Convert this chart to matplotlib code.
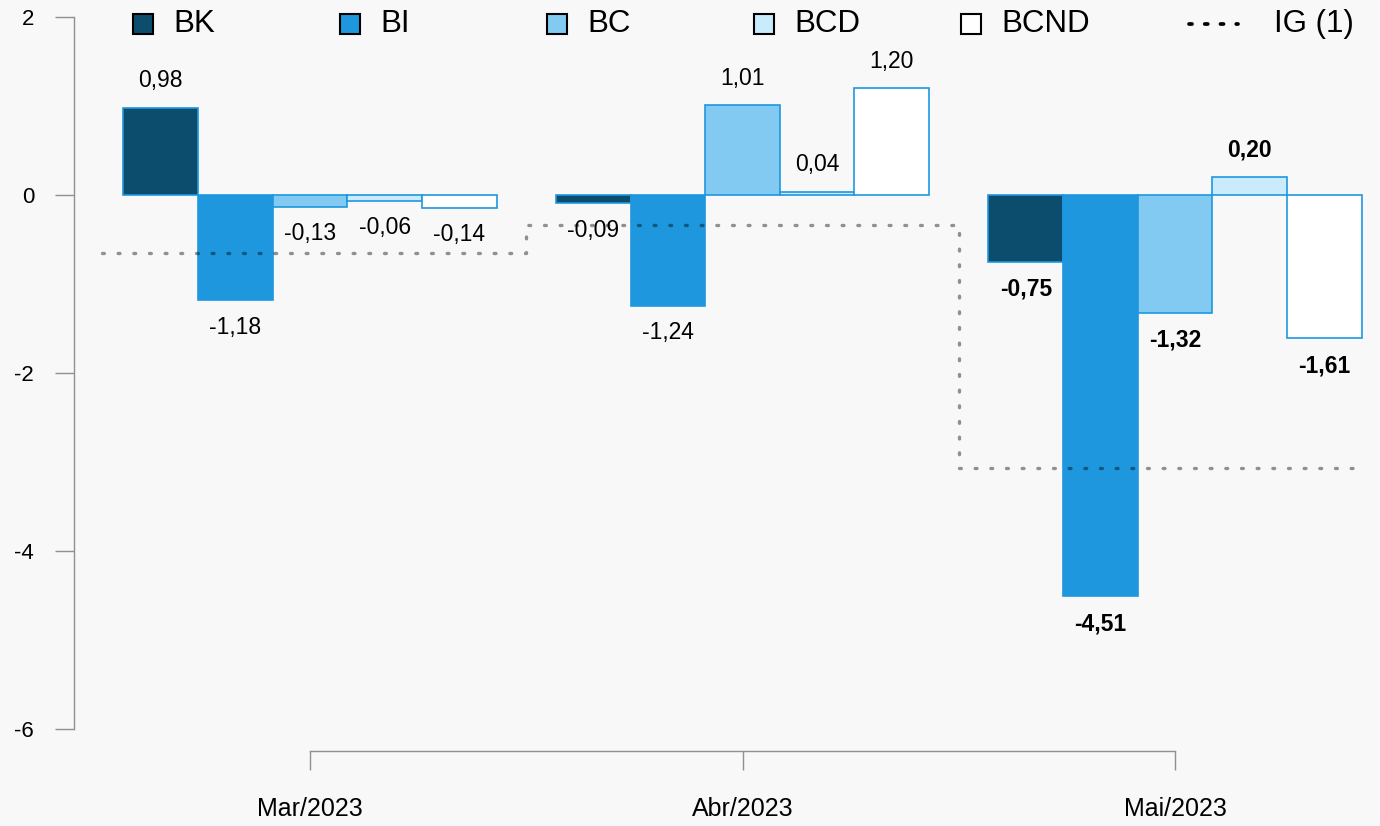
import matplotlib
matplotlib.use('Agg')
import matplotlib.pyplot as plt
from matplotlib.patches import Rectangle
from matplotlib.lines import Line2D
import numpy as np

plt.rcParams['font.family'] = ['Liberation Sans', 'DejaVu Sans']

# ---- data ----
months = ['Mar/2023', 'Abr/2023', 'Mai/2023']
series = ['BK', 'BI', 'BC', 'BCD', 'BCND']
bk = [0.98, -0.09, -0.75]
bi = [-1.18, -1.24, -4.51]
bc = [-0.13, 1.01, -1.32]
bcd = [-0.06, 0.04, 0.20]
bcnd = [-0.14, 1.20, -1.61]
ig = [-0.65, -0.33, -3.07]
ig_label = 'IG (1)'
yticks = [-6, -4, -2, 0, 2]

values = [bk, bi, bc, bcd, bcnd]
colors = ['#0c4d6d', '#1e97de', '#82caf2', '#c9ebfb', '#ffffff']
edge = '#1e97de'
bg = '#f8f8f8'

W, H = 1380, 826
fig = plt.figure(figsize=(W / 100, H / 100), dpi=100)
fig.patch.set_facecolor(bg)
ax = fig.add_axes([74 / W, (H - 750.7) / H, (W - 74) / W, 750.7 / H])
ax.set_facecolor(bg)
ax.set_xlim(-0.5457, 2.474)
ax.set_ylim(-6.244, 2.1945)

x = np.arange(len(months))
w = 0.1725
for i, vals in enumerate(values):
    xs = x + (i - 2) * w
    ax.bar(xs, vals, w, color=colors[i], edgecolor=edge, linewidth=1.2, zorder=2)
    for j, (xx, v) in enumerate(zip(xs, vals)):
        ax.annotate(f'{v:.2f}'.replace('.', ','), (xx, v),
                    xytext=(0, 19.5 if v >= 0 else -19.5), textcoords='offset points',
                    ha='center', va='center', fontsize=16.5,
                    fontweight='bold' if j == 2 else 'normal', zorder=4)

# IG step line
starts = [-0.48, 0.5, 1.5]
ends = [0.5, 1.5, 2.43]
sx, sy = [], []
for s, e, v in zip(starts, ends, ig):
    sx += [s, e]
    sy += [v, v]
ax.plot(sx, sy, color='black', alpha=0.42, lw=2.4, dashes=(0.55, 4.15),
        dash_capstyle='round', zorder=3)

# axes styling
for s in ['top', 'right']:
    ax.spines[s].set_visible(False)
for s in ['left', 'bottom']:
    ax.spines[s].set_color('#909090')
    ax.spines[s].set_linewidth(1.0)
ax.spines['left'].set_bounds(-6, 2)
ax.spines['bottom'].set_bounds(0, 2)
ax.set_yticks(yticks)
ax.set_yticklabels([str(t) for t in yticks])
ax.set_xticks(x)
ax.set_xticklabels(months)
ax.tick_params(axis='y', length=13.7, width=1, color='#909090', pad=15, labelsize=16)
ax.tick_params(axis='x', length=13.9, width=1, color='#909090', pad=19.5, labelsize=18)

# legend (manual)
for i, name in enumerate(series):
    left = 133 + 207 * i
    fig.add_artist(Rectangle((left / W, 1 - 34 / H), 20 / W, 20 / H,
                             transform=fig.transFigure, facecolor=colors[i],
                             edgecolor='black', lw=1.5))
    fig.text((left + 40) / W, 1 - 24 / H, name, va='center', ha='left', fontsize=22.5)
fig.add_artist(Line2D([1189 / W, 1238 / W], [1 - 23.5 / H] * 2, transform=fig.transFigure,
                      color='black', lw=2.7, dashes=(0.8, 3.4), dash_capstyle='round'))
fig.text(1274 / W, 1 - 24 / H, ig_label, va='center', ha='left', fontsize=22.5)

fig.savefig('out.png', dpi=100, facecolor=bg)
